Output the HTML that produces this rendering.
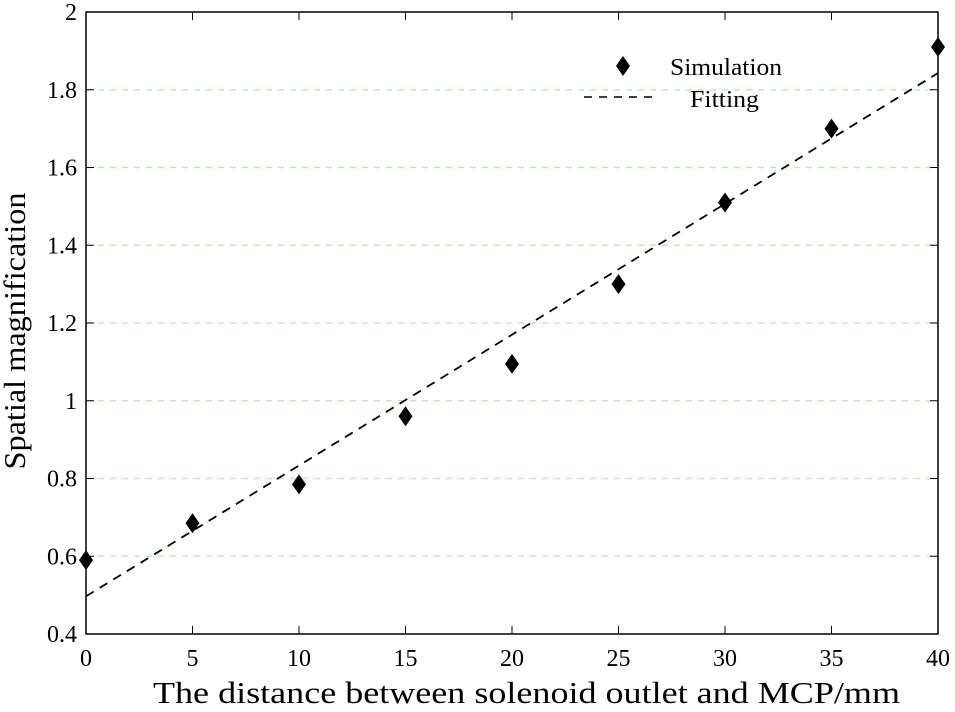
<!DOCTYPE html>
<html><head><meta charset="utf-8"><style>
body{margin:0;background:#fff;}
svg{display:block;font-family:"Liberation Serif",serif;}
</style></head><body>
<svg id="chart" width="955" height="712">
<g id="grid"></g><g id="axes"></g><g id="marks"></g>
<g>
<path d="M623 56 L630 66 L623 76 L616 66 Z" fill="#000"/>
<text x="670" y="75" font-size="24" textLength="112" lengthAdjust="spacingAndGlyphs">Simulation</text>
<line x1="584" y1="97" x2="656" y2="97" stroke="#000" stroke-width="1.5" stroke-dasharray="8,7"/>
<text x="690" y="107" font-size="24" textLength="69" lengthAdjust="spacingAndGlyphs">Fitting</text>
</g>
<text x="153" y="703" font-size="31" textLength="747" lengthAdjust="spacingAndGlyphs">The distance between solenoid outlet and MCP/mm</text>
<text transform="translate(25,331) rotate(-90)" font-size="31" text-anchor="middle" textLength="277" lengthAdjust="spacingAndGlyphs">Spatial magnification</text>
</svg>
<script>
const xValues=[0,5,10,15,20,25,30,35,40];
const simValues=[0.59,0.685,0.785,0.96,1.095,1.30,1.51,1.70,1.91];
const fitEnds=[0.497,1.843];
const xTicks=[0,5,10,15,20,25,30,35,40];
const yTicks=[0.4,0.6,0.8,1,1.2,1.4,1.6,1.8,2];
const X0=86,X1=938,Y0=634,Y1=12;
const sx=v=>X0+(v-0)/40*(X1-X0);
const sy=v=>Y0-(v-0.4)/1.6*(Y0-Y1);
const NS="http://www.w3.org/2000/svg";
function mk(t,a,p){const e=document.createElementNS(NS,t);for(const k in a)e.setAttribute(k,a[k]);p.appendChild(e);return e;}
const grid=document.getElementById('grid'),axes=document.getElementById('axes'),marks=document.getElementById('marks');
yTicks.forEach(v=>{
 if(v>0.4&&v<2){const g=mk('line',{x1:X0,x2:X1,y1:sy(v),y2:sy(v),stroke:'#b8f0b8','stroke-width':1.5,'stroke-dasharray':'6,6'},grid);
 
 }
 const t=mk('line',{x1:X0,x2:X0+8,y1:sy(v),y2:sy(v),stroke:'#000','stroke-width':1},axes);
 
 
 const t2=mk('line',{x1:X1-8,x2:X1,y1:sy(v),y2:sy(v),stroke:'#000','stroke-width':1},axes);
 
 
 const l=mk('text',{x:X0-9,y:sy(v)+8,'font-size':24,'text-anchor':'end'},axes);l.textContent=String(v);
 
 
});
xTicks.forEach(v=>{
 const t=mk('line',{x1:sx(v),x2:sx(v),y1:Y0,y2:Y0-8,stroke:'#000','stroke-width':1},axes);
 
 
 const t2=mk('line',{x1:sx(v),x2:sx(v),y1:Y1,y2:Y1+8,stroke:'#000','stroke-width':1},axes);
 
 
 const l=mk('text',{x:sx(v),y:Y0+32,'font-size':24,'text-anchor':'middle'},axes);l.textContent=String(v);
 
 
});
const box=mk('rect',{x:X0,y:Y1,width:X1-X0,height:Y0-Y1,fill:'none',stroke:'#000','stroke-width':1.5},axes);


const fit=mk('line',{x1:sx(0),y1:sy(fitEnds[0]),x2:sx(40),y2:sy(fitEnds[1]),stroke:'#000','stroke-width':1.8,'stroke-dasharray':'9,7'},marks);


xValues.forEach((x,i)=>{
 const cx=sx(x),cy=sy(simValues[i]);
 const d=mk('path',{d:`M${cx} ${cy-10} L${cx+7} ${cy} L${cx} ${cy+10} L${cx-7} ${cy} Z`,fill:'#000'},marks);
 
 
});
</script>
</body></html>
